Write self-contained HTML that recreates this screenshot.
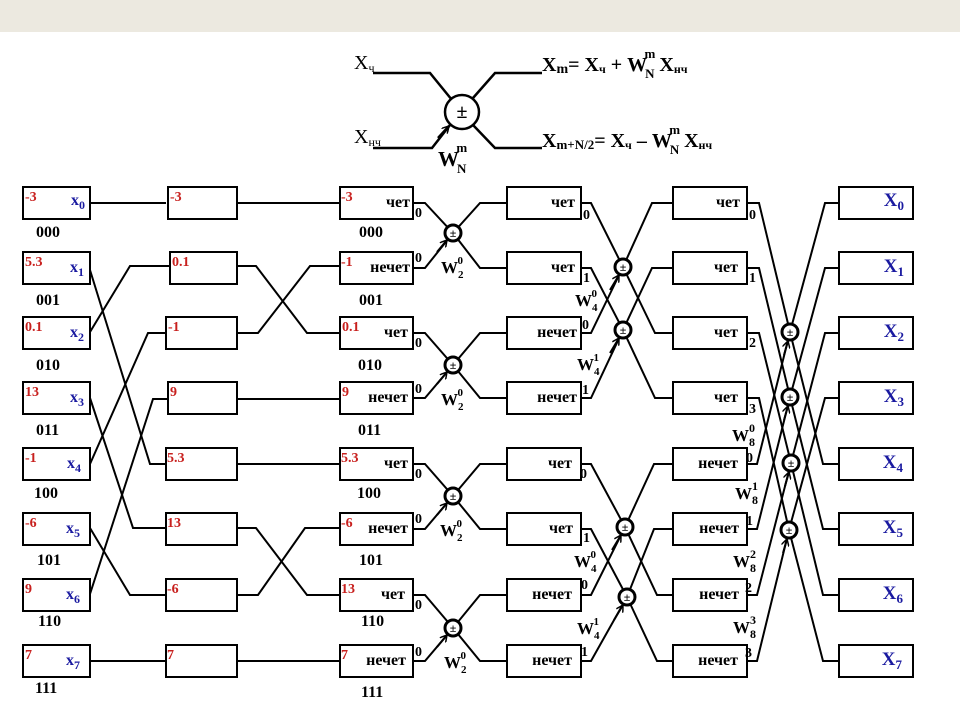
<!DOCTYPE html>
<html><head><meta charset="utf-8"><style>
html,body{margin:0;padding:0;background:#fff}
svg{display:block}
text{font-family:"Liberation Serif","DejaVu Serif",serif;font-weight:bold}
.r{fill:#c8201e;font-size:14px}
.b{fill:#1a1aa0;font-size:16px;font-weight:normal}
.k{fill:#000;font-size:16px}
.s{fill:#000;font-size:14px}
.B{fill:#1a1aa0;font-size:19px;font-weight:normal}
</style></head><body>
<svg width="960" height="705" viewBox="0 0 960 705" xmlns="http://www.w3.org/2000/svg">
<defs><marker id="a" markerWidth="8" markerHeight="8" refX="7" refY="4" orient="auto" markerUnits="userSpaceOnUse"><path d="M0,0 L7,4 L0,8" fill="none" stroke="#000" stroke-width="1.5"/></marker></defs>
<rect x="0" y="0" width="960" height="32" fill="#ece9e0"/>

<!-- top formula -->
<g stroke="#000" stroke-width="2.5" fill="none">
<polyline points="373,73 430,73 452,100"/>
<polyline points="373,148 432,148 450,125"/>
<polyline points="473,98 495,73 542,73"/>
<polyline points="473,125 495,148 542,148"/>
<line x1="438" y1="138" x2="449" y2="126" marker-end="url(#a)"/>
<circle cx="462" cy="112" r="17" fill="#fff"/>
</g>
<text x="462" y="118" text-anchor="middle" style="font-size:20px">±</text>
<text x="354" y="69" style="font-size:20px;font-weight:normal">X<tspan style="font-size:12px" dy="3">ч</tspan></text>
<text x="354" y="143" style="font-size:20px;font-weight:normal">X<tspan style="font-size:12px" dy="3">нч</tspan></text>
<text x="438" y="166" style="font-size:21px">W<tspan style="font-size:13px" dy="7" dx="-2">N</tspan><tspan style="font-size:13px" dy="-21" dx="-10">m</tspan></text>
<text x="542" y="71" style="font-size:20px">X<tspan style="font-size:14px" dy="2">m</tspan><tspan dy="-2">= X</tspan><tspan style="font-size:12px" dy="2">ч</tspan><tspan dy="-2"> + W</tspan><tspan style="font-size:13px" dy="7" dx="-2">N</tspan><tspan style="font-size:13px" dy="-20" dx="-10">m</tspan><tspan dy="13" dx="4">X</tspan><tspan style="font-size:12px" dy="2">нч</tspan></text>
<text x="542" y="147" style="font-size:20px">X<tspan style="font-size:13px" dy="2">m+N/2</tspan><tspan dy="-2">= X</tspan><tspan style="font-size:12px" dy="2">ч</tspan><tspan dy="-2"> – W</tspan><tspan style="font-size:13px" dy="7" dx="-2">N</tspan><tspan style="font-size:13px" dy="-20" dx="-10">m</tspan><tspan dy="13" dx="4">X</tspan><tspan style="font-size:12px" dy="2">нч</tspan></text>

<g stroke="#000" stroke-width="2" fill="none">
<line x1="90" y1="203" x2="166" y2="203"/>
<polyline points="90,270 150,464 166,464"/>
<polyline points="90,332 130,266 170,266"/>
<polyline points="90,398 133,528 166,528"/>
<polyline points="90,464 148,333 166,333"/>
<polyline points="90,528 130,595 166,595"/>
<polyline points="90,594 153,399 168,399"/>
<line x1="90" y1="661" x2="166" y2="661"/>
<line x1="237" y1="203" x2="340" y2="203"/>
<polyline points="237,266 256,266 307,333 340,333"/>
<polyline points="237,333 258,333 310,266 340,266"/>
<line x1="237" y1="399" x2="340" y2="399"/>
<line x1="237" y1="464" x2="340" y2="464"/>
<polyline points="237,528 256,528 307,595 340,595"/>
<polyline points="237,595 258,595 305,528 340,528"/>
<line x1="237" y1="661" x2="340" y2="661"/>
<polyline points="413,203 425,203 453,233 480,203 507,203"/>
<polyline points="413,268 425,268 453,233 480,268 507,268"/>
<polyline points="413,333 425,333 453,365 480,333 507,333"/>
<polyline points="413,398 425,398 453,365 480,398 507,398"/>
<polyline points="413,464 425,464 453,496 480,464 507,464"/>
<polyline points="413,529 425,529 453,496 480,529 507,529"/>
<polyline points="413,595 425,595 453,628 480,595 507,595"/>
<polyline points="413,661 425,661 453,628 480,661 507,661"/>
<polyline points="581,203 591,203 623,267 652,203 673,203"/>
<polyline points="581,333 591,333 623,267 655,333 673,333"/>
<polyline points="581,268 591,268 623,330 652,268 673,268"/>
<polyline points="581,398 591,398 623,330 655,398 673,398"/>
<polyline points="581,464 591,464 625,527 654,464 673,464"/>
<polyline points="581,595 591,595 625,527 657,595 673,595"/>
<polyline points="581,529 591,529 627,597 654,529 673,529"/>
<polyline points="581,661 591,661 627,597 657,661 673,661"/>
<polyline points="747,203 759,203 790,332 825,203 839,203"/>
<polyline points="747,464 757,464 790,332 823,464 839,464"/>
<polyline points="747,268 759,268 790,397 825,268 839,268"/>
<polyline points="747,529 757,529 790,397 823,529 839,529"/>
<polyline points="747,333 759,333 791,463 825,333 839,333"/>
<polyline points="747,595 757,595 791,463 823,595 839,595"/>
<polyline points="747,398 759,398 789,530 825,398 839,398"/>
<polyline points="747,661 757,661 789,530 823,661 839,661"/>
<line x1="437" y1="252" x2="447" y2="240" marker-end="url(#a)"/>
<line x1="437" y1="384" x2="447" y2="372" marker-end="url(#a)"/>
<line x1="437" y1="515" x2="447" y2="503" marker-end="url(#a)"/>
<line x1="437" y1="647" x2="447" y2="635" marker-end="url(#a)"/>
<line x1="610" y1="290" x2="619" y2="275" marker-end="url(#a)"/>
<line x1="610" y1="353" x2="619" y2="338" marker-end="url(#a)"/>
<line x1="612" y1="550" x2="621" y2="535" marker-end="url(#a)"/>
<line x1="614" y1="620" x2="623" y2="605" marker-end="url(#a)"/>
<line x1="784" y1="355" x2="788" y2="341" marker-end="url(#a)"/>
<line x1="784" y1="420" x2="788" y2="406" marker-end="url(#a)"/>
<line x1="785" y1="486" x2="789" y2="472" marker-end="url(#a)"/>
<line x1="783" y1="553" x2="787" y2="539" marker-end="url(#a)"/>
</g>

<g stroke="#000" stroke-width="3" fill="#fff">
<circle cx="453" cy="233" r="8"/><circle cx="453" cy="365" r="8"/><circle cx="453" cy="496" r="8"/><circle cx="453" cy="628" r="8"/>
<circle cx="623" cy="267" r="8"/><circle cx="623" cy="330" r="8"/><circle cx="625" cy="527" r="8"/><circle cx="627" cy="597" r="8"/>
<circle cx="790" cy="332" r="8"/><circle cx="790" cy="397" r="8"/><circle cx="791" cy="463" r="8"/><circle cx="789" cy="530" r="8"/>
</g>
<g style="font-size:12px" text-anchor="middle">
<text x="453" y="237">±</text><text x="453" y="369">±</text><text x="453" y="500">±</text><text x="453" y="632">±</text>
<text x="623" y="271">±</text><text x="623" y="334">±</text><text x="625" y="531">±</text><text x="627" y="601">±</text>
<text x="790" y="336">±</text><text x="790" y="401">±</text><text x="791" y="467">±</text><text x="789" y="534">±</text>
</g>

<g stroke="#000" stroke-width="2" fill="#fff">
<rect x="23" y="187" width="67" height="32"/><rect x="23" y="252" width="67" height="32"/><rect x="23" y="317" width="67" height="32"/><rect x="23" y="382" width="67" height="32"/>
<rect x="23" y="448" width="67" height="32"/><rect x="23" y="513" width="67" height="32"/><rect x="23" y="579" width="67" height="32"/><rect x="23" y="645" width="67" height="32"/>
<rect x="168" y="187" width="69" height="32"/><rect x="170" y="252" width="67" height="32"/><rect x="166" y="317" width="71" height="32"/><rect x="168" y="382" width="69" height="32"/>
<rect x="166" y="448" width="71" height="32"/><rect x="166" y="513" width="71" height="32"/><rect x="166" y="579" width="71" height="32"/><rect x="166" y="645" width="71" height="32"/>
<rect x="340" y="187" width="73" height="32"/><rect x="340" y="252" width="73" height="32"/><rect x="340" y="317" width="73" height="32"/><rect x="340" y="382" width="73" height="32"/>
<rect x="340" y="448" width="73" height="32"/><rect x="340" y="513" width="73" height="32"/><rect x="340" y="579" width="73" height="32"/><rect x="340" y="645" width="73" height="32"/>
<rect x="507" y="187" width="74" height="32"/><rect x="507" y="252" width="74" height="32"/><rect x="507" y="317" width="74" height="32"/><rect x="507" y="382" width="74" height="32"/>
<rect x="507" y="448" width="74" height="32"/><rect x="507" y="513" width="74" height="32"/><rect x="507" y="579" width="74" height="32"/><rect x="507" y="645" width="74" height="32"/>
<rect x="673" y="187" width="74" height="32"/><rect x="673" y="252" width="74" height="32"/><rect x="673" y="317" width="74" height="32"/><rect x="673" y="382" width="74" height="32"/>
<rect x="673" y="448" width="74" height="32"/><rect x="673" y="513" width="74" height="32"/><rect x="673" y="579" width="74" height="32"/><rect x="673" y="645" width="74" height="32"/>
<rect x="839" y="187" width="74" height="32"/><rect x="839" y="252" width="74" height="32"/><rect x="839" y="317" width="74" height="32"/><rect x="839" y="382" width="74" height="32"/>
<rect x="839" y="448" width="74" height="32"/><rect x="839" y="513" width="74" height="32"/><rect x="839" y="579" width="74" height="32"/><rect x="839" y="645" width="74" height="32"/>
</g>

<g class="r">
<text x="25" y="201">-3</text><text x="25" y="266">5.3</text><text x="25" y="331">0.1</text><text x="25" y="396">13</text>
<text x="25" y="462">-1</text><text x="25" y="527">-6</text><text x="25" y="593">9</text><text x="25" y="659">7</text>
<text x="170" y="201">-3</text><text x="172" y="266">0.1</text><text x="168" y="331">-1</text><text x="170" y="396">9</text>
<text x="167" y="462">5.3</text><text x="167" y="527">13</text><text x="167" y="593">-6</text><text x="167" y="659">7</text>
<text x="341" y="201">-3</text><text x="341" y="266">-1</text><text x="342" y="331">0.1</text><text x="342" y="396">9</text>
<text x="341" y="462">5.3</text><text x="341" y="527">-6</text><text x="341" y="593">13</text><text x="341" y="659">7</text>
</g>
<g class="b">
<text x="71" y="205">x<tspan style="font-size:12px" dy="4">0</tspan></text>
<text x="70" y="272">x<tspan style="font-size:12px" dy="4">1</tspan></text>
<text x="70" y="337">x<tspan style="font-size:12px" dy="4">2</tspan></text>
<text x="70" y="402">x<tspan style="font-size:12px" dy="4">3</tspan></text>
<text x="67" y="468">x<tspan style="font-size:12px" dy="4">4</tspan></text>
<text x="66" y="533">x<tspan style="font-size:12px" dy="4">5</tspan></text>
<text x="66" y="599">x<tspan style="font-size:12px" dy="4">6</tspan></text>
<text x="66" y="665">x<tspan style="font-size:12px" dy="4">7</tspan></text>
</g>
<g class="k">
<text x="36" y="237">000</text><text x="36" y="305">001</text><text x="36" y="370">010</text><text x="36" y="435">011</text>
<text x="34" y="498">100</text><text x="37" y="565">101</text><text x="38" y="626">110</text><text x="35" y="693">111</text>
<text x="359" y="237">000</text><text x="359" y="305">001</text><text x="358" y="370">010</text><text x="358" y="435">011</text>
<text x="357" y="498">100</text><text x="359" y="565">101</text><text x="361" y="626">110</text><text x="361" y="697">111</text>
</g>
<g class="k" text-anchor="end">
<text x="410" y="207">чет</text><text x="410" y="272">нечет</text><text x="408" y="337">чет</text><text x="408" y="402">нечет</text>
<text x="408" y="468">чет</text><text x="408" y="533">нечет</text><text x="405" y="599">чет</text><text x="406" y="665">нечет</text>
<text x="575" y="207">чет</text><text x="575" y="272">чет</text><text x="577" y="337">нечет</text><text x="577" y="402">нечет</text>
<text x="572" y="468">чет</text><text x="573" y="533">чет</text><text x="572" y="599">нечет</text><text x="572" y="665">нечет</text>
<text x="740" y="207">чет</text><text x="738" y="272">чет</text><text x="738" y="337">чет</text><text x="738" y="402">чет</text>
<text x="738" y="468">нечет</text><text x="739" y="533">нечет</text><text x="739" y="599">нечет</text><text x="738" y="665">нечет</text>
</g>
<g class="B" text-anchor="end">
<text x="904" y="206">X<tspan style="font-size:13px" dy="4">0</tspan></text>
<text x="904" y="272">X<tspan style="font-size:13px" dy="4">1</tspan></text>
<text x="904" y="337">X<tspan style="font-size:13px" dy="4">2</tspan></text>
<text x="904" y="402">X<tspan style="font-size:13px" dy="4">3</tspan></text>
<text x="903" y="468">X<tspan style="font-size:13px" dy="4">4</tspan></text>
<text x="903" y="533">X<tspan style="font-size:13px" dy="4">5</tspan></text>
<text x="903" y="599">X<tspan style="font-size:13px" dy="4">6</tspan></text>
<text x="902" y="665">X<tspan style="font-size:13px" dy="4">7</tspan></text>
</g>
<g class="s">
<text x="415" y="217">0</text><text x="415" y="262">0</text><text x="415" y="347">0</text><text x="415" y="393">0</text>
<text x="415" y="478">0</text><text x="415" y="523">0</text><text x="415" y="609">0</text><text x="415" y="656">0</text>
<text x="583" y="219">0</text><text x="583" y="282">1</text><text x="582" y="329">0</text><text x="582" y="394">1</text>
<text x="580" y="478">0</text><text x="583" y="542">1</text><text x="581" y="589">0</text><text x="581" y="656">1</text>
<text x="749" y="219">0</text><text x="749" y="282">1</text><text x="749" y="347">2</text><text x="749" y="413">3</text>
<text x="746" y="462">0</text><text x="746" y="525">1</text><text x="745" y="592">2</text><text x="745" y="657">3</text>
</g>
<g style="font-size:17px">
<text x="441" y="273">W<tspan style="font-size:11px" dy="5">2</tspan><tspan style="font-size:11px" dy="-14" dx="-6">0</tspan></text>
<text x="441" y="405">W<tspan style="font-size:11px" dy="5">2</tspan><tspan style="font-size:11px" dy="-14" dx="-6">0</tspan></text>
<text x="440" y="536">W<tspan style="font-size:11px" dy="5">2</tspan><tspan style="font-size:11px" dy="-14" dx="-6">0</tspan></text>
<text x="444" y="668">W<tspan style="font-size:11px" dy="5">2</tspan><tspan style="font-size:11px" dy="-14" dx="-6">0</tspan></text>
<text x="575" y="306">W<tspan style="font-size:11px" dy="5">4</tspan><tspan style="font-size:11px" dy="-14" dx="-6">0</tspan></text>
<text x="577" y="370">W<tspan style="font-size:11px" dy="5">4</tspan><tspan style="font-size:11px" dy="-14" dx="-6">1</tspan></text>
<text x="574" y="567">W<tspan style="font-size:11px" dy="5">4</tspan><tspan style="font-size:11px" dy="-14" dx="-6">0</tspan></text>
<text x="577" y="634">W<tspan style="font-size:11px" dy="5">4</tspan><tspan style="font-size:11px" dy="-14" dx="-6">1</tspan></text>
<text x="732" y="441">W<tspan style="font-size:12px" dy="5">8</tspan><tspan style="font-size:12px" dy="-14" dx="-6">0</tspan></text>
<text x="735" y="499">W<tspan style="font-size:12px" dy="5">8</tspan><tspan style="font-size:12px" dy="-14" dx="-6">1</tspan></text>
<text x="733" y="567">W<tspan style="font-size:12px" dy="5">8</tspan><tspan style="font-size:12px" dy="-14" dx="-6">2</tspan></text>
<text x="733" y="633">W<tspan style="font-size:12px" dy="5">8</tspan><tspan style="font-size:12px" dy="-14" dx="-6">3</tspan></text>
</g>
</svg>
</body></html>
